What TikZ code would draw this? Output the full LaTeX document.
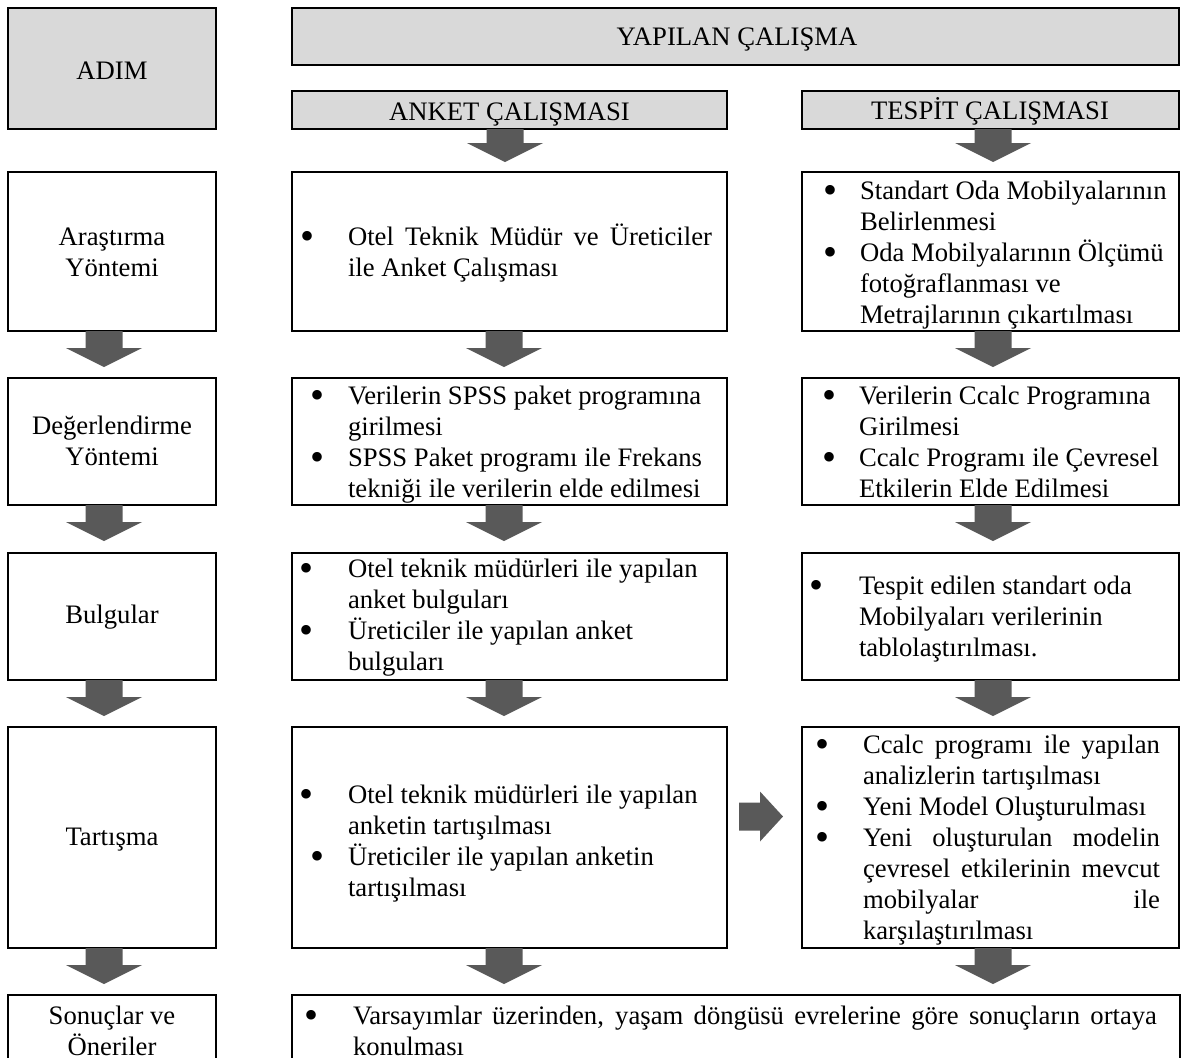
\documentclass[tikz,border=0pt]{standalone}
\usepackage{graphicx}
\usepackage{fontspec}
\setmainfont{Liberation Serif}
\usetikzlibrary{calc}
\newdimen\PX \PX=0.75pt
\definecolor{hdrgray}{RGB}{217,217,217}
\definecolor{arrgray}{RGB}{89,89,89}
\newcommand\bul[1]{\leavevmode\llap{\makebox[#1\PX][l]{\raisebox{-4\PX}{\scalebox{1.5}{\textbullet}}}}}
\newcommand\jst[2]{\makebox[#1\PX][s]{#2}}
\newcommand\mkbox[6]{\node[#2,anchor=north west,minimum width={(#5-#3)*0.75pt},minimum height={(#6-#4)*0.75pt}] (#1) at (#3,#4) {};}
\begin{document}
\begin{tikzpicture}[x=0.75pt,y=-0.75pt,
  plain/.style={draw=black,line width=1.5pt,fill=white,inner sep=0pt,outer sep=0pt},
  hdr/.style={plain,fill=hdrgray},
  txt/.style={inner sep=0pt,outer sep=0pt,anchor=base west,font=\fontsize{20pt}{23.25pt}\selectfont},
  ctxt/.style={txt,anchor=base},
  pics/downarr/.style={code={\fill[arrgray] (-18.5,0) -- (18.5,0) -- (18.5,#1) -- (38,#1) -- (0,{#1+19}) -- (-38,#1) -- (-18.5,#1) -- cycle;}},
  pics/rightarr/.style={code={\fill[arrgray] (0,-14) -- (21,-14) -- (21,-25) -- (44,0) -- (21,25) -- (21,14) -- (0,14) -- cycle;}}]
\useasboundingbox (0,0) rectangle (1184,1057);
\clip (0,0) rectangle (1184,1057);
\lineskiplimit=-100pt
% header boxes
\mkbox{adim}{hdr}{8}{8}{216}{129}
\mkbox{yap}{hdr}{292}{8}{1179}{65}
\mkbox{ank}{hdr}{292}{91}{727}{129}
\mkbox{tes}{hdr}{802}{91}{1179}{129}
% rows
\mkbox{r1l}{plain}{8}{172}{216}{331}
\mkbox{r1m}{plain}{292}{172}{727}{331}
\mkbox{r1r}{plain}{802}{172}{1179}{331}
\mkbox{r2l}{plain}{8}{378}{216}{505}
\mkbox{r2m}{plain}{292}{378}{727}{505}
\mkbox{r2r}{plain}{802}{378}{1179}{505}
\mkbox{r3l}{plain}{8}{553}{216}{680}
\mkbox{r3m}{plain}{292}{553}{727}{680}
\mkbox{r3r}{plain}{802}{553}{1179}{680}
\mkbox{r4l}{plain}{8}{727}{216}{948}
\mkbox{r4m}{plain}{292}{727}{727}{948}
\mkbox{r4r}{plain}{802}{727}{1179}{948}
\mkbox{r5l}{plain}{8}{995}{216}{1090}
\mkbox{r5m}{plain}{292}{995}{1180}{1090}
% arrows
\pic at ($(ank.south)+(-4.5,0)$) {downarr=14};
\pic at ($(tes.south)+(2.5,0)$) {downarr=14};
\foreach \r in {1,2,3,4}{
  \pic at ($(r\r l.south)+(-8,0)$) {downarr=17};
  \pic at ($(r\r m.south)+(-5.5,0)$) {downarr=17};
  \pic at ($(r\r r.south)+(2.5,0)$) {downarr=17};
}
\pic at ($(r4m.east)+(12,-21)$) {rightarr};
% header texts
\node[ctxt] (tadim) at (112,79) {ADIM};
\node[ctxt] (tyap) at (737,45) {YAPILAN ÇALIŞMA};
\node[ctxt] (tank) at (509.5,120) {ANKET ÇALIŞMASI};
\node[ctxt] (ttes) at (990,119) {TESPİT ÇALIŞMASI};
% left column
\node[ctxt] (t1l) at (112,245) {\parbox[t]{200pt}{\centering Araştırma\\Yöntemi}};
\node[ctxt] (t2l) at (112,434) {\parbox[t]{200pt}{\centering Değerlendirme\\Yöntemi}};
\node[ctxt] (t3l) at (112,623) {Bulgular};
\node[ctxt] (t4l) at (112,845) {Tartışma};
\node[ctxt] (t5l) at (112,1024) {\parbox[t]{200pt}{\centering Sonuçlar ve\\Öneriler}};
% middle column
\node[txt] (t1m) at (348,245) {\parbox[t]{300pt}{\raggedright\bul{48}\jst{364}{Otel Teknik Müdür ve Üreticiler}\\ile Anket Çalışması}};
\node[txt] (t2m) at (348,404) {\parbox[t]{300pt}{\raggedright\bul{38}Verilerin SPSS paket programına\\girilmesi\\\bul{38}SPSS Paket programı ile Frekans\\tekniği ile verilerin elde edilmesi}};
\node[txt] (t3m) at (348,577) {\parbox[t]{300pt}{\raggedright\bul{49}Otel teknik müdürleri ile yapılan\\anket bulguları\\\bul{49}Üreticiler ile yapılan anket\\bulguları}};
\node[txt] (t4m) at (348,803) {\parbox[t]{300pt}{\raggedright\bul{49}Otel teknik müdürleri ile yapılan\\anketin tartışılması\\\bul{38}Üreticiler ile yapılan anketin\\tartışılması}};
\node[txt] (t5m) at (353,1024) {\parbox[t]{650pt}{\raggedright\bul{49}\jst{804}{Varsayımlar üzerinden, yaşam döngüsü evrelerine göre sonuçların ortaya}\\konulması}};
% right column
\node[txt] (t1r) at (860,199) {\parbox[t]{250pt}{\raggedright\bul{37}Standart Oda Mobilyalarının\\Belirlenmesi\\\bul{37}Oda Mobilyalarının Ölçümü\\fotoğraflanması ve\\Metrajlarının çıkartılması}};
\node[txt] (t2r) at (859,404) {\parbox[t]{250pt}{\raggedright\bul{37}Verilerin Ccalc Programına\\Girilmesi\\\bul{37}Ccalc Programı ile Çevresel\\Etkilerin Elde Edilmesi}};
\node[txt] (t3r) at (859,594) {\parbox[t]{250pt}{\raggedright\bul{50}Tespit edilen standart oda\\Mobilyaları verilerinin\\tablolaştırılması.}};
\node[txt] (t4r) at (863,753) {\parbox[t]{250pt}{\raggedright\bul{48}\jst{297}{Ccalc programı ile yapılan}\\analizlerin tartışılması\\\bul{48}Yeni Model Oluşturulması\\\bul{48}\jst{297}{Yeni oluşturulan modelin}\\\jst{297}{çevresel etkilerinin mevcut}\\\jst{297}{mobilyalar ile}\\karşılaştırılması}};
\end{tikzpicture}
\end{document}
